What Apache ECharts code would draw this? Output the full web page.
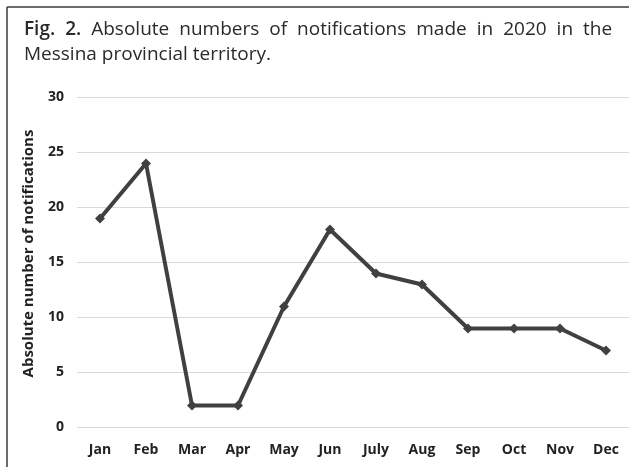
<!DOCTYPE html>
<html>
<head>
<meta charset="utf-8">
<script src="https://cdn.jsdelivr.net/npm/echarts@6/dist/echarts.min.js"></script>
<style>html,body{margin:0;padding:0;background:#fff;}#c{width:629px;height:467px;}</style>
</head>
<body>
<div id="c"></div>
<script>
const months = ['Jan','Feb','Mar','Apr','May','Jun','July','Aug','Sep','Oct','Nov','Dec'];
const notifications = [19, 24, 2, 2, 11, 18, 14, 13, 9, 9, 9, 7];
const yTicks = [0, 5, 10, 15, 20, 25, 30];
const titleLine1Words = ['Absolute','numbers','of','notifications','made','in','2020','in','the'];
const titleLine2 = 'Messina provincial territory.';

const line1 = '{b|Fig.}{s| }{b|2.}{s| }' + titleLine1Words.map(w => '{t|' + w + '}').join('{s| }');

const chart = echarts.init(document.getElementById('c'), null, {renderer: 'canvas'});
chart.setOption({
  backgroundColor: '#fff',
  animation: false,
  title: {
    left: 19, top: 12,
    text: line1 + '\n{t|' + titleLine2 + '}',
    textStyle: {
      fontFamily: 'Open Sans', fontSize: 19, fontWeight: 'normal', color: '#2a2a2a', lineHeight: 25,
      rich: {
        b: { fontFamily: 'Open Sans', fontSize: 19, fontWeight: 600, color: '#2a2a2a', lineHeight: 25 },
        t: { fontFamily: 'Open Sans', fontSize: 19, color: '#2a2a2a', lineHeight: 25 },
        s: { fontFamily: 'Open Sans', fontSize: 19, width: 10, lineHeight: 25 }
      }
    }
  },
  graphic: [
    { type: 'line', shape: {x1: 7, y1: 7, x2: 629, y2: 7}, style: {stroke: '#3a3a3a', lineWidth: 1.5} },
    { type: 'line', shape: {x1: 7, y1: 7, x2: 7, y2: 467}, style: {stroke: '#3a3a3a', lineWidth: 1.5} }
  ],
  grid: { left: 77, right: 0, top: 97.5, bottom: 39.5, containLabel: false },
  xAxis: {
    type: 'category', data: months, boundaryGap: true,
    axisLine: {show: false}, axisTick: {show: false},
    axisLabel: { margin: 16, fontFamily: 'Open Sans', fontWeight: 'bold', fontSize: 14, color: '#222' }
  },
  yAxis: {
    type: 'value', min: yTicks[0], max: yTicks[yTicks.length - 1], interval: 5,
    name: 'Absolute number of notifications', nameLocation: 'middle', nameGap: 41,
    nameTextStyle: { fontFamily: 'Open Sans', fontWeight: 'bold', fontSize: 15, color: '#222', padding: [0, 0, 0, 18] },
    axisLine: {show: false}, axisTick: {show: false},
    splitLine: { lineStyle: { color: '#d9d9d9', width: 1 } },
    axisLabel: { margin: 13, fontFamily: 'Open Sans', fontWeight: 'bold', fontSize: 14, color: '#222' }
  },
  series: [{
    type: 'line', data: notifications,
    symbol: 'diamond', symbolSize: 10,
    lineStyle: { color: '#404040', width: 4 },
    itemStyle: { color: '#404040' }
  }]
});
</script>
</body>
</html>
